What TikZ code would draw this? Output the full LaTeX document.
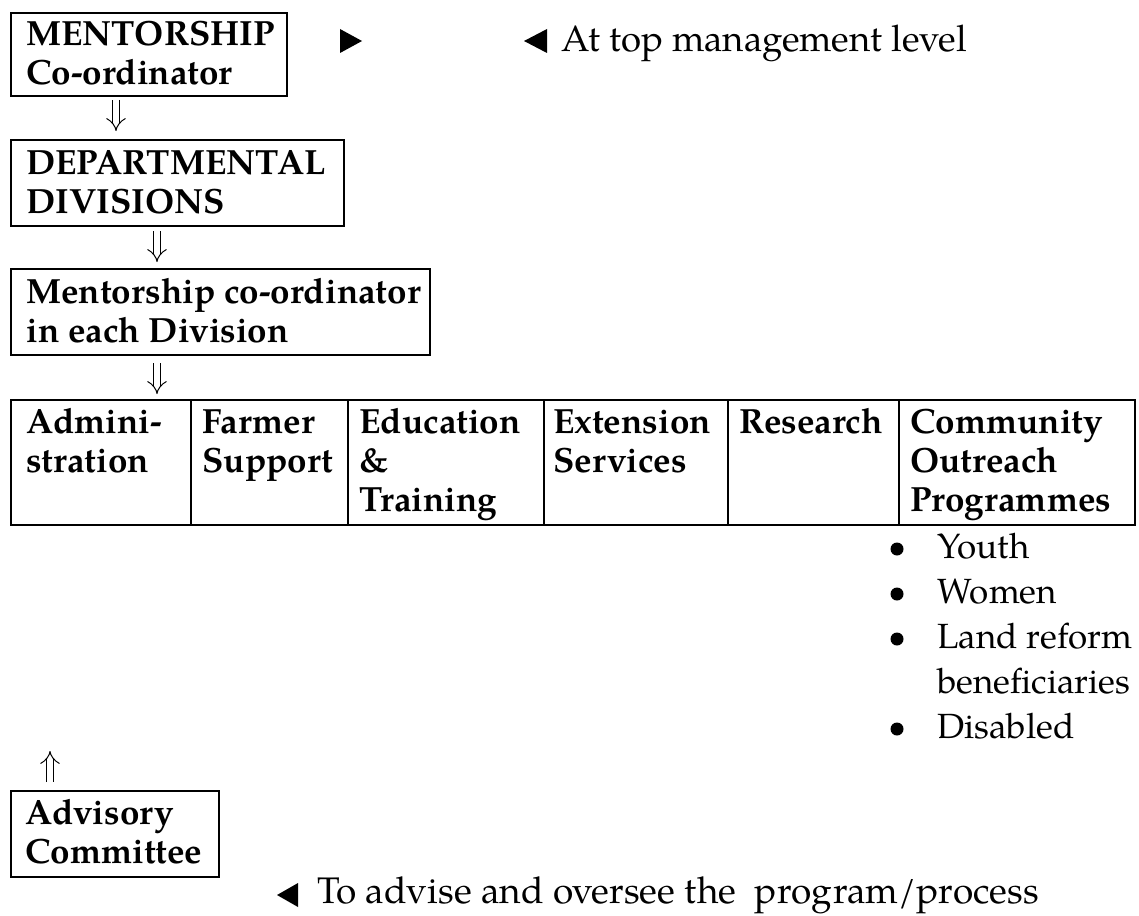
\documentclass[tikz,border=0pt]{standalone}
\usepackage{fontspec}
\setmainfont{TeX Gyre Pagella}
\usetikzlibrary{arrows.meta}
\begin{document}
\begin{tikzpicture}[x=0.5pt,y=-0.5pt,
  font=\fontsize{17.5pt}{19.5pt}\selectfont,
  frame/.style={draw, line width=1pt, anchor=north west, inner sep=0pt},
  btext/.style={anchor=base west, inner sep=0pt, align=left,
    font=\fontsize{17.5pt}{19.5pt}\selectfont\bfseries},
  plain/.style={anchor=base west, inner sep=0pt, align=left},
  note/.style={anchor=base west, inner sep=0pt, font=\fontsize{18.3pt}{20pt}\selectfont},
  dot/.style={circle, fill, inner sep=0pt, minimum size=6.5pt},
  dbl/.style={double, double distance=3pt, line width=0.5pt, -{Implies[length=5pt,width=11pt]}},
  tri/.style={fill=black}
]
\useasboundingbox (0,0) rectangle (1139,915);

% framed boxes
\node[frame, minimum width=138pt, minimum height=41.5pt] (mc) at (10,12) {};
\node[btext] (mct) at (26,84) {MENTORSHIP\\Co-ordinator};
\node[frame, minimum width=166.5pt, minimum height=43pt] (dd) at (10,139) {};
\node[btext] (ddt) at (26,213) {DEPARTMENTAL\\DIVISIONS};
\node[frame, minimum width=209.5pt, minimum height=43pt] (md) at (10,268) {};
\node[btext] (mdt) at (26,342) {Mentorship co-ordinator\\in each Division};
\node[frame, minimum width=104pt, minimum height=43pt] (ac) at (10,790) {};
\node[btext] (act) at (25,863) {Advisory\\Committee};

% table cells
\node[frame, minimum width=90pt, minimum height=62.5pt] (c1) at (10,399) {};
\node[frame, minimum width=78.5pt, minimum height=62.5pt] (c2) at (190,399) {};
\node[frame, minimum width=98pt, minimum height=62.5pt] (c3) at (347,399) {};
\node[frame, minimum width=92pt, minimum height=62.5pt] (c4) at (543,399) {};
\node[frame, minimum width=85.5pt, minimum height=62.5pt] (c5) at (727,399) {};
\node[frame, minimum width=118pt, minimum height=62.5pt] (c6) at (898,399) {};

\node[btext] (t1) at (26,472) {Admini-\\stration};
\node[btext] (t2) at (202,472) {Farmer\\Support};
\node[btext] (t3) at (359,511) {Education\\\&\\Training};
\node[btext] (t4) at (553,472) {Extension\\Services};
\node[btext] (t5) at (739,433) {Research};
\node[btext] (t6) at (910,511) {Community\\Outreach\\Programmes};

% bullet list
\node[dot] (d1) at (897,549) {};
\node[dot] (d2) at (897,594) {};
\node[dot] (d3) at (897,639) {};
\node[dot] (d4) at (897,729) {};
\node[plain] (b1) at (937,558) {Youth};
\node[plain] (b2) at (937,603) {Women};
\node[plain] (b3) at (937,648) {Land reform};
\node[plain] (b3b) at (937,693) {beneficiaries};
\node[plain] (b4) at (937,738) {Disabled};

% side notes
\fill[tri] (340,29) -- (362,41) -- (340,53) -- cycle;
\fill[tri] (547,29) -- (524,41) -- (547,53) -- cycle;
\node[note] (top) at (561,52) {At top management level};
\fill[tri] (298,883) -- (277,895) -- (298,907) -- cycle;
\node[note, font=\fontsize{18.5pt}{20pt}\selectfont] (adv) at (317,903) {To advise and oversee the\ \ program/process};

% double arrows
\coordinate (a1s) at (116,100); \coordinate (a1e) at (116,131);
\coordinate (a2s) at (157,231); \coordinate (a2e) at (157,262);
\coordinate (a3s) at (157,363); \coordinate (a3e) at (157,394);
\coordinate (a4s) at (50,782);  \coordinate (a4e) at (50,751);
\draw[dbl] (a1s) -- (a1e);
\draw[dbl] (a2s) -- (a2e);
\draw[dbl] (a3s) -- (a3e);
\draw[dbl] (a4s) -- (a4e);
\end{tikzpicture}
\end{document}
